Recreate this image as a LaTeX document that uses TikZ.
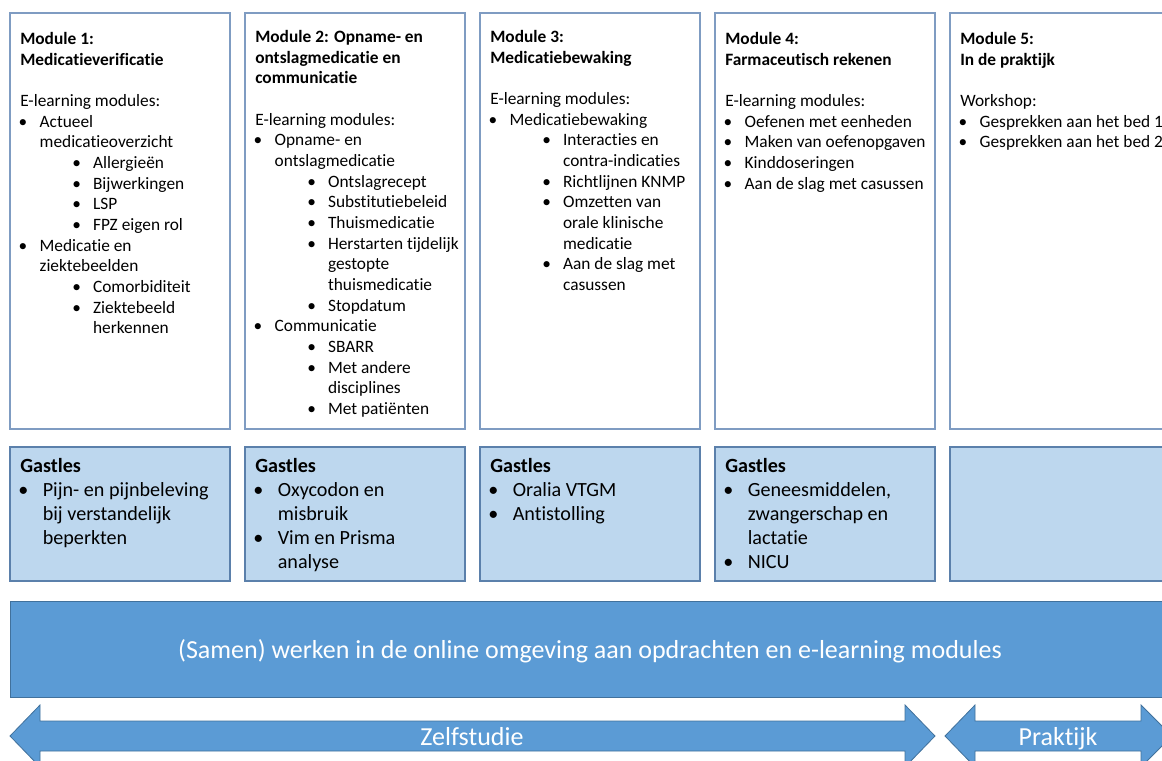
\documentclass[tikz,border=0pt]{standalone}
\usepackage{fontspec}
\setmainfont{Carlito}[Ligatures=NoCommon]
\usetikzlibrary{positioning}
\definecolor{modline}{HTML}{7F9CC2}
\definecolor{gastfill}{HTML}{BDD7EE}
\definecolor{gastline}{HTML}{5B80AB}
\definecolor{barfill}{HTML}{5B9BD5}
\definecolor{barline}{HTML}{41719C}
% bullets, in em so they follow the font size
\newcommand\bul{\hspace*{-0.1em}\makebox[1.22em][l]{\textbullet}}
\newcommand\bulc{\hspace*{1.12em}}
\newcommand\subbul{\hspace*{3.0em}\makebox[1.2em][l]{\textbullet}}
\newcommand\subbulc{\hspace*{4.2em}}
\tikzset{
  box_mod/.style = {rectangle, draw=modline, line width=1.3pt, fill=white,
    minimum width=165pt, minimum height=312pt, inner sep=0pt, outer sep=0pt},   % module box
  box_gast/.style = {rectangle, draw=gastline, line width=1pt, fill=gastfill,
    minimum width=165pt, minimum height=100.5pt, inner sep=0pt, outer sep=0pt}, % guest lesson box
  txt_mod/.style = {anchor=north west, inner sep=0pt, align=left,
    font=\fontsize{13}{15.5}\selectfont},
  txt_gast/.style = {anchor=north west, inner sep=0pt, align=left,
    font=\fontsize{15.1}{18}\selectfont},
  txt_big/.style = {anchor=base, inner sep=0pt, white, font=\fontsize{19.5}{23}\selectfont},
  blue_shape/.style = {fill=barfill, draw=barline, line width=0.6pt}
}

\begin{document}
\begin{tikzpicture}[x=0.75pt, y=-0.75pt]
  \useasboundingbox (0,0) rectangle (1162,760);
  \clip (0,0) rectangle (1162,760);
  % module boxes
  \node [box_mod, anchor=north west] (mod1) at (10,13) {};
  \node [box_mod, right=11.25pt of mod1] (mod2) {};
  \node [box_mod, right=11.25pt of mod2] (mod3) {};
  \node [box_mod, right=11.25pt of mod3] (mod4) {};
  \node [box_mod, right=11.25pt of mod4] (mod5) {};
  % guest lessons
  \node [box_gast, below=13.5pt of mod1] (gast1) {};
  \node [box_gast, below=13.5pt of mod2] (gast2) {};
  \node [box_gast, below=13.5pt of mod3] (gast3) {};
  \node [box_gast, below=13.5pt of mod4] (gast4) {};
  \node [box_gast, below=13.5pt of mod5] (gast5) {};

  \node [txt_mod] (mod1txt) at ([xshift=7.5pt, yshift=-14.25pt]mod1.north west) {
    \textbf{Module 1:}\\ \textbf{Medicatieverificatie}\\[15.5pt]
    E-learning modules:\\
    \bul Actueel\\ \bulc medicatieoverzicht\\
    \subbul Allergieën\\ \subbul Bijwerkingen\\ \subbul LSP\\ \subbul FPZ eigen rol\\
    \bul Medicatie en\\ \bulc ziektebeelden\\
    \subbul Comorbiditeit\\ \subbul Ziektebeeld\\ \subbulc herkennen};
  \node [txt_mod] (mod2txt) at ([xshift=7.5pt, yshift=-12.75pt]mod2.north west) {
    \textbf{Module 2: Opname- en}\\ \textbf{ontslagmedicatie en}\\
    \textbf{communicatie}\\[15.5pt]
    E-learning modules:\\
    \bul Opname- en\\ \bulc ontslagmedicatie\\
    \subbul Ontslagrecept\\ \subbul Substitutiebeleid\\ \subbul Thuismedicatie\\
    \subbul Herstarten tijdelijk\\ \subbulc gestopte\\ \subbulc thuismedicatie\\
    \subbul Stopdatum\\
    \bul Communicatie\\
    \subbul SBARR\\ \subbul Met andere\\ \subbulc disciplines\\ \subbul Met patiënten};
  \node [txt_mod] (mod3txt) at ([xshift=7.5pt, yshift=-12.75pt]mod3.north west) {
    \textbf{Module 3:}\\ \textbf{Medicatiebewaking}\\[15.5pt]
    E-learning modules:\\
    \bul Medicatiebewaking\\
    \subbul Interacties en\\ \subbulc contra-indicaties\\ \subbul Richtlijnen KNMP\\
    \subbul Omzetten van\\ \subbulc orale klinische\\ \subbulc medicatie\\
    \subbul Aan de slag met\\ \subbulc casussen};
  \node [txt_mod] (mod4txt) at ([xshift=7.5pt, yshift=-14.25pt]mod4.north west) {
    \textbf{Module 4:}\\ \textbf{Farmaceutisch rekenen}\\[15.5pt]
    E-learning modules:\\
    \bul Oefenen met eenheden\\ \bul Maken van oefenopgaven\\
    \bul Kinddoseringen\\ \bul Aan de slag met casussen};
  \node [txt_mod] (mod5txt) at ([xshift=7.5pt, yshift=-14.25pt]mod5.north west) {
    \textbf{Module 5:}\\ \textbf{In de praktijk}\\[15.5pt]
    Workshop:\\
    \bul Gesprekken aan het bed 1\\ \bul Gesprekken aan het bed 2};

  \node [txt_gast] (gast1txt) at ([xshift=7.5pt, yshift=-8pt]gast1.north west) {
    \textbf{Gastles}\\ \bul Pijn- en pijnbeleving\\ \bulc bij verstandelijk\\ \bulc beperkten};
  \node [txt_gast] (gast2txt) at ([xshift=7.5pt, yshift=-8pt]gast2.north west) {
    \textbf{Gastles}\\ \bul Oxycodon en\\ \bulc misbruik\\ \bul Vim en Prisma\\ \bulc analyse};
  \node [txt_gast] (gast3txt) at ([xshift=7.5pt, yshift=-8pt]gast3.north west) {
    \textbf{Gastles}\\ \bul Oralia VTGM\\ \bul Antistolling};
  \node [txt_gast] (gast4txt) at ([xshift=7.5pt, yshift=-8pt]gast4.north west) {
    \textbf{Gastles}\\ \bul Geneesmiddelen,\\ \bulc zwangerschap en\\ \bulc lactatie\\ \bul NICU};

  % online work bar
  \node [blue_shape, rectangle, anchor=north west, minimum width=870pt, minimum height=72pt,
    inner sep=0pt, outer sep=0pt, text=white, font=\fontsize{19.5}{23}\selectfont] (online)
    at ([yshift=-15pt]gast1.south west)
    {\raisebox{-7pt}[0pt][0pt]{(Samen) werken in de online omgeving aan opdrachten en e-learning modules}};

  % double arrows
  \draw [blue_shape] (10,736) -- (40,705) -- (40,721) -- (905,721) -- (905,705) -- (935,736)
    -- (905,767) -- (905,751) -- (40,751) -- (40,767) -- cycle;
  \draw [blue_shape] (945,736) -- (975,705) -- (975,721) -- (1141,721) -- (1141,705) -- (1172,736)
    -- (1141,767) -- (1141,751) -- (975,751) -- (975,767) -- cycle;
  \node [txt_big] (self) at (472,745) {Zelfstudie};
  \node [txt_big] (prak) at (1058,745) {Praktijk};
\end{tikzpicture}
\end{document}
